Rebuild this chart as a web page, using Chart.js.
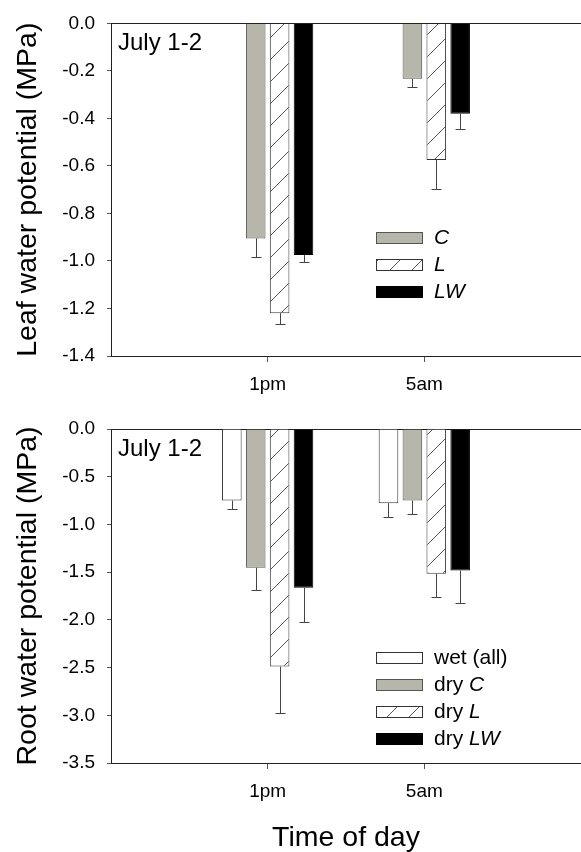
<!DOCTYPE html>
<html lang="en">
<head>
<meta charset="UTF-8">
<title>Leaf and root water potential</title>
<script src="https://cdn.jsdelivr.net/npm/chart.js@4"></script>
<style>
  html, body { margin: 0; padding: 0; background: #fff; overflow: hidden; }
  #wrap { position: relative; width: 581px; height: 852px; overflow: hidden; }
  #wrap canvas { position: absolute; left: 0; }
  #leafChart { top: 0; }
  #rootChart { top: 400px; }
</style>
</head>
<body>
<div id="wrap">
  <canvas id="leafChart" width="592" height="400"></canvas>
  <canvas id="rootChart" width="592" height="452"></canvas>
</div>
<script>
// categories
const times = ['1pm', '5am'];

// leaf water potential (MPa), means and standard errors
const leafC = [-0.905, -0.233];
const leafCse = [0.077, 0.036];
const leafL = [-1.22, -0.575];
const leafLse = [0.045, 0.123];
const leafLW = [-0.975, -0.38];
const leafLWse = [0.031, 0.064];

// root water potential (MPa)
const rootWet = [-0.75, -0.778];
const rootWetse = [0.087, 0.147];
const rootC = [-1.455, -0.75];
const rootCse = [0.237, 0.136];
const rootL = [-2.49, -1.518];
const rootLse = [0.486, 0.244];
const rootLW = [-1.664, -1.483];
const rootLWse = [0.363, 0.342];

// tick labels
const leafTicks = [0, -0.2, -0.4, -0.6, -0.8, -1.0, -1.2, -1.4];
const rootTicks = [0, -0.5, -1.0, -1.5, -2.0, -2.5, -3.0, -3.5];

const FONT = "'Liberation Sans', Arial, sans-serif";
const grey = '#b6b6aa';

function hatch() {
  const c = document.createElement('canvas');
  c.width = 22; c.height = 22;
  const g = c.getContext('2d');
  g.fillStyle = '#fff';
  g.fillRect(0, 0, 22, 22);
  g.strokeStyle = '#555';
  g.lineWidth = 1;
  g.beginPath();
  g.moveTo(-2, 24); g.lineTo(24, -2);
  g.stroke();
  return g.createPattern(c, 'repeat');
}
const stripes = hatch();

// empty categories at both ends put the two groups where SigmaPlot had them
const labels = ['', ...times, ''];
const pad = arr => [null, ...arr, null];

// error bars, drawn downward only
const errorBars = {
  id: 'errorBars',
  afterDatasetsDraw(chart) {
    const ctx = chart.ctx;
    const y = chart.scales.y;
    ctx.save();
    ctx.strokeStyle = '#444';
    ctx.lineWidth = 1;
    chart.data.datasets.forEach((ds, i) => {
      if (!ds.errors) return;
      chart.getDatasetMeta(i).data.forEach((bar, j) => {
        const v = ds.data[j];
        if (v == null) return;
        const e = ds.errors[j - 1];
        const x = Math.round(bar.x) + 0.5;
        const y0 = y.getPixelForValue(v);
        const y1 = Math.round(y.getPixelForValue(v - e)) + 0.5;
        ctx.beginPath();
        ctx.moveTo(x, y0); ctx.lineTo(x, y1);
        ctx.moveTo(x - 5, y1); ctx.lineTo(x + 5, y1);
        ctx.stroke();
      });
    });
    ctx.restore();
  }
};

// legend boxes with partly italic names, and the date note
const notes = {
  id: 'notes',
  afterDraw(chart) {
    const o = chart.options.plugins.notes;
    const ctx = chart.ctx;
    const area = chart.chartArea;
    ctx.save();
    ctx.fillStyle = '#000';
    ctx.font = '24px ' + FONT;
    ctx.textBaseline = 'alphabetic';
    ctx.fillText(o.note, area.left + 7, area.top + 27);

    let top = o.legendY;
    chart.data.datasets.forEach(ds => {
      if (!ds.label) return;
      ctx.fillStyle = ds.backgroundColor;
      ctx.fillRect(o.legendX, top, 46, 11);
      ctx.strokeStyle = ds.borderColor;
      ctx.lineWidth = 1;
      ctx.strokeRect(o.legendX + 0.5, top + 0.5, 46, 11);
      const parts = ds.label.split('|');
      let x = o.legendX + 58;
      ctx.fillStyle = '#000';
      ctx.textBaseline = 'middle';
      parts.forEach((p, k) => {
        const italic = parts.length === 1 || k === 1;
        ctx.font = (italic ? 'italic ' : '') + '21px ' + FONT;
        ctx.fillText(p, x, top + 6);
        x += ctx.measureText(p).width;
      });
      top += 27;
    });
    ctx.restore();
  }
};

function makeChart(id, datasets, yTicks, yTitle, opts) {
  return new Chart(document.getElementById(id), {
    type: 'bar',
    data: { labels: labels, datasets: datasets },
    plugins: [errorBars, notes],
    options: {
      responsive: false,
      animation: false,
      layout: { padding: { top: opts.top, left: 0, right: 0, bottom: 0 } },
      datasets: { bar: { categoryPercentage: 0.61, barPercentage: 0.82, borderWidth: 1 } },
      plugins: {
        legend: { display: false },
        tooltip: { enabled: false },
        notes: { note: 'July 1-2', legendX: 376, legendY: opts.legendY }
      },
      scales: {
        x: {
          offset: false,
          afterFit: s => { s.height = opts.xHeight; },
          grid: {
            offset: false,
            drawOnChartArea: false,
            tickLength: 6,
            tickColor: c => labels[c.index] ? '#555' : 'rgba(0,0,0,0)'
          },
          border: { color: '#222', width: 1 },
          ticks: { color: '#000', font: { family: FONT, size: 19 }, padding: 11, maxRotation: 0, autoSkip: false },
          title: {
            display: !!opts.xTitle,
            text: opts.xTitle || '',
            color: '#000',
            font: { family: FONT, size: 28.5, lineHeight: 1 },
            padding: { top: 0, bottom: 0 }
          }
        },
        y: {
          min: yTicks[yTicks.length - 1],
          max: 0,
          afterFit: s => { s.width = 111; },
          afterBuildTicks: s => { s.ticks = yTicks.map(v => ({ value: v })); },
          grid: {
            color: c => c.tick && c.tick.value === 0 ? '#222' : 'rgba(0,0,0,0)',
            tickColor: '#555',
            tickLength: 4
          },
          border: { color: '#222', width: 1 },
          ticks: {
            color: '#000',
            font: { family: FONT, size: 19 },
            padding: 12,
            callback: v => Number(v).toFixed(1)
          },
          title: {
            display: true,
            text: yTitle,
            color: '#000',
            font: { family: FONT, size: 28.5, lineHeight: 1.2 },
            padding: { top: 11, bottom: 0 }
          }
        }
      }
    }
  });
}

makeChart('leafChart', [
  { label: '', data: pad([null, null]) },
  { label: 'C', data: pad(leafC), errors: leafCse, backgroundColor: grey, borderColor: '#555' },
  { label: 'L', data: pad(leafL), errors: leafLse, backgroundColor: stripes, borderColor: '#333' },
  { label: 'LW', data: pad(leafLW), errors: leafLWse, backgroundColor: '#000', borderColor: '#000' }
], leafTicks, 'Leaf water potential (MPa)', { top: 21, xHeight: 44, legendY: 232 });

makeChart('rootChart', [
  { label: 'wet (all)|', data: pad(rootWet), errors: rootWetse, backgroundColor: '#fff', borderColor: '#333' },
  { label: 'dry |C', data: pad(rootC), errors: rootCse, backgroundColor: grey, borderColor: '#555' },
  { label: 'dry |L', data: pad(rootL), errors: rootLse, backgroundColor: stripes, borderColor: '#333' },
  { label: 'dry |LW', data: pad(rootLW), errors: rootLWse, backgroundColor: '#000', borderColor: '#000' }
], rootTicks, 'Root water potential (MPa)', { top: 29, xHeight: 89, legendY: 252, xTitle: 'Time of day' });
</script>
</body>
</html>
